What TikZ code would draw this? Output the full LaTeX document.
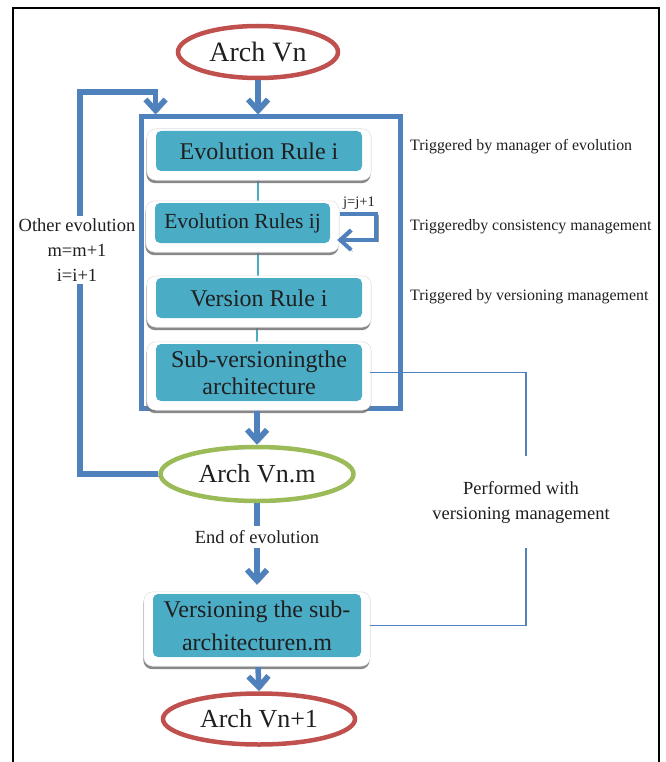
\documentclass[tikz,border=0pt]{standalone}
\usepackage{fontspec}
\setmainfont{Liberation Serif}
\usetikzlibrary{arrows.meta,shapes.geometric,backgrounds,calc,shadows}
\definecolor{ablue}{HTML}{4F81BD}
\definecolor{ateal}{HTML}{4BACC6}
\definecolor{ared}{HTML}{C0504D}
\definecolor{agreen}{HTML}{9BBB59}
\definecolor{atext}{HTML}{1F1F1F}
\begin{document}
\begin{tikzpicture}[x=1pt,y=-1pt,
  tip/.style={-{Straight Barb[length=11pt,width=20pt]}},
  bigarrow/.style={draw=ablue, line width=5.5pt, tip,
    preaction={draw=black!40, tip, transform canvas={shift={(2pt,-2pt)}}}},
  loopline/.style={draw=ablue, line width=4pt, tip,
    preaction={draw=black!40, tip, transform canvas={shift={(1.5pt,-1.5pt)}}}},
  tealbox/.style={rectangle, rounded corners=5pt, fill=ateal, inner sep=0pt,
    text=atext, align=center, font=\fontsize{24}{27}\selectfont},
  backing/.style={fill=white, draw=black!12, line width=0.6pt, rounded corners=9pt,
    drop shadow={shadow xshift=-0.5pt, shadow yshift=-3pt, fill=black!55, opacity=0.85}},
  archell/.style={ellipse, inner sep=0pt, fill=white, line width=4.5pt, text=atext,
    font=\fontsize{26}{30}\selectfont},
  tealline/.style={draw=ateal, line width=1.6pt},
  thinblue/.style={draw=ablue, line width=1.6pt},
  sidetext/.style={anchor=west, inner sep=0pt, text=atext, font=\fontsize{15.9}{18}\selectfont},
  midtext/.style={fill=white, align=center, text=atext, font=\fontsize{18.5}{25}\selectfont}
]
\useasboundingbox (0,0) rectangle (665,762);
% page frame
\draw[line width=2.4pt, black] (13,775) -- (13,8) -- (659,8) -- (659,775);

% ellipses
\node[archell, draw=ared, minimum width=160, minimum height=52, font=\fontsize{28}{32}\selectfont] (arch0) at (258,52) {Arch Vn};
\node[archell, draw=agreen, minimum width=193, minimum height=54] (arch1) at (257,474) {Arch Vn.m};
\node[archell, draw=ared, minimum width=192, minimum height=51] (arch2) at (259,719) {Arch Vn+1};

% teal boxes
\node[tealbox, minimum width=206, minimum height=40] (e1) at (259,151) {Evolution Rule i};
\node[tealbox, minimum width=175, minimum height=40, font=\fontsize{21.5}{25}\selectfont] (e2) at (242.5,223) {Evolution Rules ij};
\node[tealbox, minimum width=206, minimum height=40] (e3) at (259,298) {Version Rule i};
\node[tealbox, minimum width=206, minimum height=57] (e4) at (259,372.5) {Sub-versioningthe\\architecture};
\node[tealbox, minimum width=208, minimum height=63, font=\fontsize{24}{33}\selectfont] (e5) at (257,625.5) {Versioning the sub-\\architecturen.m};

\begin{scope}[on background layer]
  \node[rectangle, draw=ablue, line width=5pt, minimum width=259, minimum height=291, inner sep=0pt] (grp) at (270.5,262.5) {};
  \draw[tealline] (e1.south -| 258,0) -- (e2.north -| 258,0);
  \draw[tealline] (e2.south -| 258,0) -- (e3.north -| 258,0);
  \draw[tealline] (e3.south -| 257,0) -- (e4.north -| 257,0);
  \foreach \n in {e1,e2,e3,e4,e5}{
    \path[backing] ($(\n.north west)+(-9,-2)$) rectangle ($(\n.south east)+(9,9)$);
  }
\end{scope}

% main flow arrows
\draw[bigarrow] (arch0.south) -- (arch0.south |- grp.north);
\draw[bigarrow] (grp.south -| arch1.north) -- (arch1.north);

% feedback loop
\coordinate (lp) at (80,92);
\coordinate (lt) at ($(grp.north west)+(17,0)$);
\draw[bigarrow] (arch1.west) -| (lp) -| (lt);
\node[midtext, inner sep=3pt] (oth) at (77,250) {Other evolution\\m=m+1\\i=i+1};

% self loop on e2
\coordinate (s1) at ($(e2.east)+(10,-9)$);
\draw[loopline] (s1) -- ++(36,0) |- ($(e2.east)+(7,17)$);
\node[text=atext, inner sep=0pt, font=\fontsize{14.5}{16}\selectfont] (jj) at (359,203) {j=j+1};

% end of evolution
\draw[bigarrow] (arch1.south) -- ($(e5.north)+(0,-9)$);
\node[midtext, inner sep=4.5pt] (eoe) at (257,537) {End of evolution};
\draw[bigarrow] ($(e5.south)+(1,10)$) -- (arch2.north);

% side texts
\node[sidetext] (t1) at (410,147) {Triggered by manager of evolution};
\node[sidetext] (t2) at (410,227) {Triggeredby consistency management};
\node[sidetext] (t3) at (410,297) {Triggered by versioning management};

% performed with
\node[midtext, fill=none, minimum height=92, inner sep=0pt] (pf) at (521,502) {Performed with\\versioning management};
\draw[thinblue] ($(e4.east)+(8,0)$) -| ($(pf.north)+(5,0)$);
\draw[thinblue] ($(pf.south)+(5,0)$) |- ($(e5.east)+(9,0)$);
\end{tikzpicture}
\end{document}
